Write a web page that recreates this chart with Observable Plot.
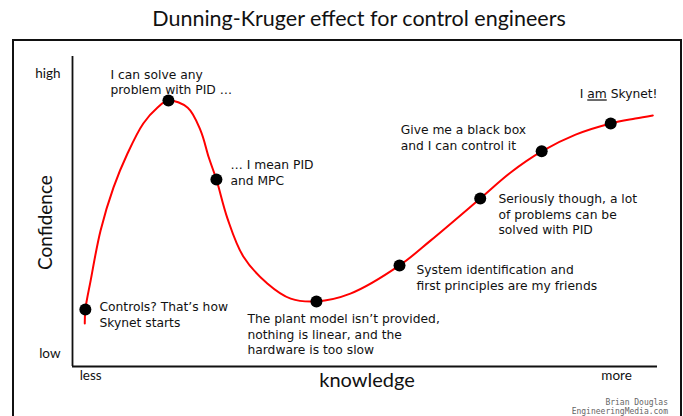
<!DOCTYPE html>
<html><head><meta charset="utf-8">
<script src="https://cdn.jsdelivr.net/npm/d3@7"></script>
<script src="https://cdn.jsdelivr.net/npm/@observablehq/plot@0.6"></script>
<style>
body{margin:0;background:#fff;width:683px;height:416px;overflow:hidden;position:relative;font-family:Lato,sans-serif;}
#title{position:absolute;left:0;top:4px;width:718px;text-align:center;font-size:21.5px;line-height:28px;color:#111;}
#box{position:absolute;left:12px;top:39px;width:666px;height:420px;border:2px solid #111;}
#chart{position:absolute;left:0;top:0;}
#credit{position:absolute;right:15px;top:398px;font-family:"DejaVu Sans Mono",monospace;font-size:8px;color:#666;text-align:right;line-height:9px;}
</style></head><body>
<div id="title">Dunning-Kruger effect for control engineers</div>
<div id="box"></div>
<div id="chart"></div>
<div id="credit">Brian Douglas<br>EngineeringMedia.com</div>
<script>
// curve through the sketch (knowledge 0-100, confidence 0-100)
const curveX = [2.1, 2.2, 3.1, 4.8, 7.0, 9.4, 12.1, 14.5, 16.4, 19.7, 21.9, 23.3, 24.6, 26.5, 29.2, 33.3, 37.3, 41.7, 47.5, 55.9, 61.2, 69.7, 74.9, 80.2, 86.0, 92.0, 96.2, 99.2];
const curveY = [13.9, 18.4, 27.7, 43.9, 57.7, 68.7, 78.4, 83.5, 85.8, 83.5, 76.1, 67.4, 60.3, 47.7, 35.5, 26.8, 21.9, 21.0, 23.5, 32.6, 40.6, 54.2, 62.6, 69.4, 74.8, 78.4, 80.0, 81.0];
// stages (dots)
const dotX = [2.2, 16.4, 24.6, 41.7, 55.9, 69.7, 80.2, 92.0];
const dotY = [18.4, 85.8, 60.3, 21.0, 32.6, 54.2, 69.4, 78.4];
// annotations
const noteText = [
  "Controls? That\u2019s how\nSkynet starts",
  "I can solve any\nproblem with PID \u2026",
  "\u2026 I mean PID\nand MPC",
  "The plant model isn\u2019t provided,\nnothing is linear, and the\nhardware is too slow",
  "System identification and\nfirst principles are my friends",
  "Seriously though, a lot\nof problems can be\nsolved with PID",
  "Give me a black box\nand I can control it",
  "I am Skynet!"
];
const noteX = [4.6, 6.5, 27.0, 29.9, 58.8, 72.8, 56.1, 86.7];
const noteY = [19.4, 94.5, 65.2, 15.5, 31.3, 54.2, 76.5, 88.1];
// axis tick labels
const yTickValues = [4.2, 94.5];
const yTickLabels = ["low", "high"];
const xTickValues = [3.1, 93.0];
const xTickLabels = ["less", "more"];
const yLabel = "Confidence";
const xLabel = "knowledge";

const curve = curveX.map((x, i) => ({x, y: curveY[i]}));
const dots = dotX.map((x, i) => ({x, y: dotY[i]}));
const notes = noteText.map((t, i) => ({t, x: noteX[i], y: noteY[i]}));
const yMap = new Map(yTickValues.map((v, i) => [v, yTickLabels[i]]));
const xMap = new Map(xTickValues.map((v, i) => [v, xTickLabels[i]]));

const chart = Plot.plot({
  width: 683, height: 416,
  marginLeft: 72, marginRight: 26, marginTop: 56, marginBottom: 50,
  style: {background: "transparent", fontFamily: "Lato, sans-serif", fontSize: "13px", color: "#111"},
  x: {domain: [0, 100], axis: null},
  y: {domain: [0, 100], axis: null},
  marks: [
    Plot.ruleX([0], {y1: 0, y2: 100, stroke: "#111", strokeWidth: 1.8}),
    Plot.ruleY([0], {x1: 0, x2: 100, stroke: "#111", strokeWidth: 1.8}),
    Plot.axisY(yTickValues, {tickSize: 0, tickPadding: 12, tickFormat: d => yMap.get(d), fontSize: 13.5, label: null}),
    Plot.axisX(xTickValues, {tickSize: 0, tickPadding: 4, tickFormat: d => xMap.get(d), fontSize: 13.5, label: null}),
    Plot.text([yLabel], {frameAnchor: "left", rotate: -90, dx: -27, dy: 11, fontSize: 19, textAnchor: "middle", lineAnchor: "middle", fill: "#111"}),
    Plot.text([xLabel], {frameAnchor: "bottom", dx: 2, dy: 14, fontSize: 20, textAnchor: "middle", lineAnchor: "middle", fill: "#111"}),
    Plot.line(curve, {x: "x", y: "y", curve: "catmull-rom", stroke: "#f00", strokeWidth: 2}),
    Plot.dot(dots, {x: "x", y: "y", r: 6, fill: "#000"}),
    Plot.text(notes, {x: "x", y: "y", text: "t", textAnchor: "start", lineAnchor: "top", dy: -6, fontSize: 12.3, fontFamily: "DejaVu Sans", lineHeight: 1.26, fill: "#111"})
  ]
});
document.getElementById("chart").appendChild(chart);
// underline "am"
chart.querySelectorAll("text").forEach(el => {
  if (el.textContent === "I am Skynet!") {
    el.textContent = "";
    const ns = "http://www.w3.org/2000/svg";
    ["I ", "am", " Skynet!"].forEach(s => {
      const ts = document.createElementNS(ns, "tspan");
      ts.textContent = s;
      if (s === "am") ts.setAttribute("text-decoration", "underline");
      el.appendChild(ts);
    });
  }
});
</script>
</body></html>
